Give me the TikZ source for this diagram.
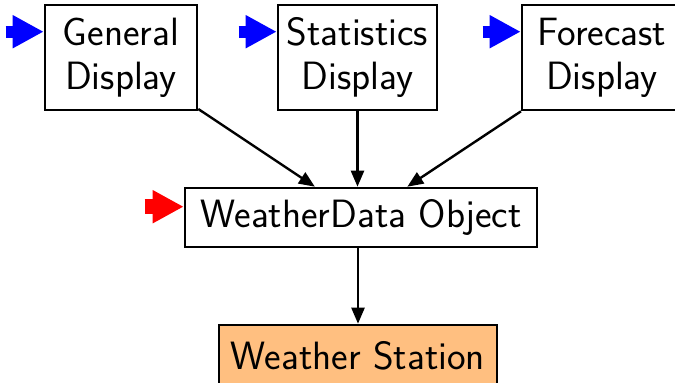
\documentclass[tikz,border=0pt]{standalone}
\usetikzlibrary{arrows.meta}
\begin{document}
\begin{tikzpicture}[x=1pt,y=-1pt,
  box/.style={draw,line width=2.6pt,fill=white,inner sep=0pt,align=center,font=\sffamily\fontsize{39.5}{44}\selectfont},
  conn/.style={line width=2.4pt,-{Triangle[length=16pt,width=13pt]}},
  feed/.style={line width=12pt,-{Triangle[length=31pt,width=31pt]}}]
\useasboundingbox (0,0) rectangle (675,383);
\node[box,minimum width=152pt,minimum height=105pt] (gen) at (121,57.5) {General\\Display};
\node[box,minimum width=159pt,minimum height=105pt] (stat) at (357.5,57.5) {Statistics\\Display};
\node[box,minimum width=160pt,minimum height=105pt] (fore) at (602,57.5) {Forecast\\Display};
\node[box,minimum width=352pt,minimum height=59pt] (wd) at (361,217.5) {WeatherData Object};
\node[box,fill=orange!50,minimum width=278pt,minimum height=62pt] (ws) at (358,356) {Weather Station};
\draw[conn] (gen) -- (wd);
\draw[conn] (stat) -- (stat|-wd.north);
\draw[conn] (fore) -- (wd);
\draw[conn] (wd.south-|ws.north) -- (ws);
\coordinate (g0) at ([xshift=-38pt]gen.west);
\coordinate (s0) at ([xshift=-38pt]stat.west);
\coordinate (f0) at ([xshift=-38pt]fore.west);
\coordinate (w0) at ([xshift=-39pt]wd.west);
\draw[feed,blue] ([yshift=-28pt]g0|-gen.north) -- ([yshift=-28pt]gen.north west);
\draw[feed,blue] ([yshift=-28pt]s0|-stat.north) -- ([yshift=-28pt]stat.north west);
\draw[feed,blue] ([yshift=-28pt]f0|-fore.north) -- ([yshift=-28pt]fore.north west);
\draw[feed,red,line width=15pt] ([yshift=-20pt]w0|-wd.north) -- ([yshift=-20pt]wd.north west);
\end{tikzpicture}
\end{document}
